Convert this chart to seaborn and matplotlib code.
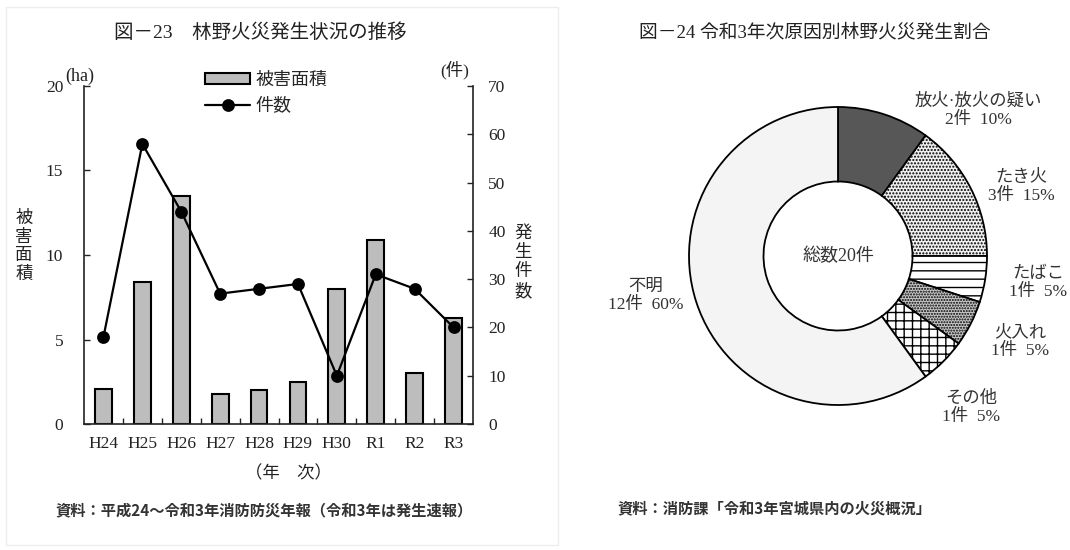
import numpy as np
import matplotlib
matplotlib.use("Agg")
import matplotlib.pyplot as plt
import seaborn as sns
from matplotlib.patches import Rectangle

# ---------------------------------------------------------------------------
# data
# ---------------------------------------------------------------------------
years = ["H24", "H25", "H26", "H27", "H28", "H29", "H30", "R1", "R2", "R3"]
damage_area = [2.1, 8.4, 13.5, 1.8, 2.0, 2.5, 8.0, 10.9, 3.0, 6.3]   # ha
fire_count = [18, 58, 44, 27, 28, 29, 10, 31, 28, 20]               # 件

causes = ["放火·放火の疑い", "たき火", "たばこ", "火入れ", "その他", "不明"]
cause_counts = [2, 3, 1, 1, 1, 12]
cause_pct = [10, 15, 5, 5, 5, 60]

# ---------------------------------------------------------------------------
# style
# ---------------------------------------------------------------------------
sns.set_theme(style="white")
FONTS = ["Liberation Serif", "Noto Sans CJK JP"]
plt.rcParams["font.family"] = FONTS
plt.rcParams["hatch.linewidth"] = 1.0

W, H = 1070, 550
fig = plt.figure(figsize=(W / 100, H / 100), dpi=100)


def fx(px):
    return px / W


def fy(py):
    return 1 - py / H


# faint frame round the left panel
fig.add_artist(Rectangle((fx(6), fy(545)), fx(558) - fx(6), fy(7) - fy(545),
                         transform=fig.transFigure, fill=False,
                         edgecolor="#eeeeee", lw=1))

# ---------------------------------------------------------------------------
# 図-23 bars + line
# ---------------------------------------------------------------------------
ax = fig.add_axes([fx(84), fy(424), fx(473) - fx(84), fy(86) - fy(424)])
sns.barplot(x=years, y=damage_area, color="#bdbdbd", saturation=1,
            edgecolor="black", linewidth=1.5, width=0.43, ax=ax)
ax.set_ylim(0, 20)
ax.set_yticks([0, 5, 10, 15, 20])

ax2 = ax.twinx()
sns.pointplot(x=years, y=fire_count, color="black", markers="o",
              linestyles="-", errorbar=None, markersize=8, linewidth=1.6,
              ax=ax2)
ax2.set_ylim(0, 70)
ax2.set_yticks(range(0, 71, 10))
ax.set_xlim(-0.5, len(years) - 0.5)

for a in (ax, ax2):
    a.set_xlabel("")
    a.set_ylabel("")
    a.spines["top"].set_visible(False)
ax.spines["right"].set_visible(False)
ax2.spines["left"].set_visible(False)
ax2.spines["bottom"].set_visible(False)
for s in ("left", "bottom"):
    ax.spines[s].set_color("#222222")
    ax.spines[s].set_linewidth(1.2)
ax2.spines["right"].set_color("#222222")
ax2.spines["right"].set_linewidth(1.2)

ax.tick_params(axis="y", direction="in", length=4, width=1, pad=15,
               labelsize=12.5, left=True, colors="#222222")
ax2.tick_params(axis="y", direction="in", length=4, width=1, pad=11,
                labelsize=12.5, right=True, colors="#222222")
ax.tick_params(axis="x", which="major", length=0, pad=9, labelsize=12.5,
               colors="#222222")
ax.set_xticks(np.arange(0.5, len(years) - 1, 1), minor=True)
ax.tick_params(axis="x", which="minor", direction="in", length=4, width=1,
               bottom=True, color="#222222")

leg = ax2.legend([ax.patches[0], ax2.lines[0]], ["被害面積", "件数"],
                 loc="upper left", bbox_to_anchor=(fx(205), fy(72)),
                 bbox_transform=fig.transFigure, frameon=False, fontsize=13,
                 handlelength=2.5, handleheight=0.55, handletextpad=0.3,
                 labelspacing=0.5, borderpad=0, borderaxespad=0)

fig.text(fx(260), fy(33), "図－23　林野火災発生状況の推移", ha="center",
         va="center", fontsize=14, color="#222222")
fig.text(fx(80), fy(76), "(ha)", ha="center", va="center", fontsize=13,
         color="#222222")
fig.text(fx(455), fy(70), "(件)", ha="center", va="center", fontsize=12.5,
         color="#222222")
fig.text(fx(24), fy(247), "被\n害\n面\n積", ha="center", va="center",
         fontsize=12.5, linespacing=1.2, color="#222222")
fig.text(fx(523), fy(263), "発\n生\n件\n数", ha="center", va="center",
         fontsize=12.5, linespacing=1.28, color="#222222")
fig.text(fx(288), fy(474), "（年　次）", ha="center", va="center",
         fontsize=12.5, color="#222222")
fig.text(fx(55), fy(510), "資料：平成24～令和3年消防防災年報（令和3年は発生速報）",
         ha="left", va="center", fontsize=11, fontweight="bold",
         family=["Noto Sans CJK JP"], color="#333333")

# ---------------------------------------------------------------------------
# 図-24 donut
# ---------------------------------------------------------------------------
R = 149          # outer radius in pixels
L = 1.1
cx, cy = 838, 256
pax = fig.add_axes([fx(cx - R * L), fy(cy + R * L), 2 * R * L / W, 2 * R * L / H])
face_colors = ["#575757", "#f0f0f0", "white", "#c8c8c8", "white", "#f4f4f4"]
hatches = [None, ".....", "--", "......", "++", None]
wedges, _ = pax.pie(cause_counts, startangle=90, counterclock=False,
                    radius=1, colors=face_colors,
                    wedgeprops=dict(width=0.5, edgecolor="black", linewidth=1.3))
for w, h in zip(wedges, hatches):
    if h:
        w.set_hatch(h)
pax.set_xlim(-L, L)
pax.set_ylim(-L, L)
pax.set_aspect("equal")
pax.axis("off")

pax.text(0, 0, "総数20件", ha="center", va="center", fontsize=13,
         color="#333333")

label_xy = [(0.94, 0.977), (1.228, 0.46), (1.342, -0.181),
            (1.221, -0.58), (0.893, -1.02), (-1.289, -0.268)]
for name, n, p, (lx, ly) in zip(causes, cause_counts, cause_pct, label_xy):
    pax.text(lx, ly, f"{name}\n{n}件  {p}%", ha="center", va="center",
             fontsize=12.5, linespacing=1.15, color="#333333")

fig.text(fx(815), fy(33), "図－24 令和3年次原因別林野火災発生割合", ha="center",
         va="center", fontsize=13.5, color="#222222")
fig.text(fx(617), fy(508), "資料：消防課「令和3年宮城県内の火災概況」",
         ha="left", va="center", fontsize=11, fontweight="bold",
         family=["Noto Sans CJK JP"], color="#333333")

fig.savefig("out.png", dpi=100)
